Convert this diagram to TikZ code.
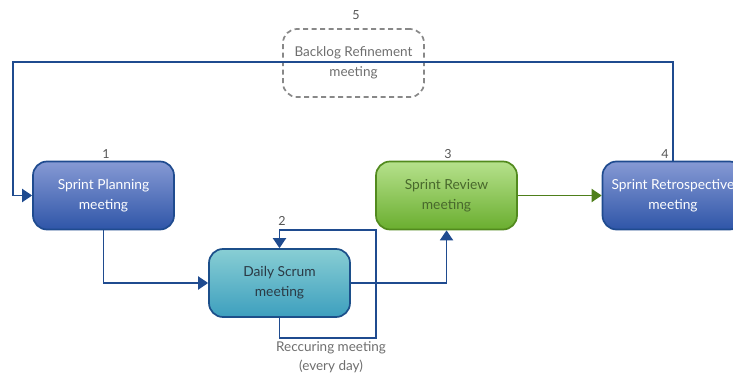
\documentclass[tikz,border=0pt]{standalone}
\usepackage{fontspec}
\setmainfont{Lato}
\usetikzlibrary{arrows.meta,positioning}

\definecolor{linkblue}{HTML}{1F4B8F}
\definecolor{linkgreen}{HTML}{4E7F1A}
\definecolor{numgray}{HTML}{555555}
\definecolor{notegray}{HTML}{6E6E6E}
\definecolor{blueTop}{RGB}{134,154,212}
\definecolor{blueBot}{RGB}{47,85,168}
\definecolor{cyanTop}{RGB}{136,206,212}
\definecolor{cyanBot}{RGB}{61,159,190}
\definecolor{cyanEdge}{RGB}{28,79,138}
\definecolor{cyanText}{RGB}{43,58,69}
\definecolor{greenTop}{RGB}{182,225,140}
\definecolor{greenBot}{RGB}{106,174,47}
\definecolor{greenEdge}{RGB}{82,138,30}
\definecolor{greenText}{RGB}{72,104,44}
\definecolor{ghostEdge}{RGB}{136,136,136}

\tikzset{
  meeting/.style={rounded corners=14pt, minimum width=141pt, minimum height=68pt,
    align=center, font=\fontsize{13.8}{20}\selectfont, line width=1.7pt, inner sep=2pt},
  bluebox/.style={meeting, draw=linkblue, top color=blueTop, bottom color=blueBot, text=white},
  cyanbox/.style={meeting, draw=cyanEdge, top color=cyanTop, bottom color=cyanBot, text=cyanText},
  greenbox/.style={meeting, draw=greenEdge, top color=greenTop, bottom color=greenBot, text=greenText},
  ghostbox/.style={meeting, draw=ghostEdge, dash pattern=on 5pt off 3.5pt,
    text=notegray, font=\fontsize{13.5}{20}\selectfont},
  stepnum/.style={text=numgray, font=\fontsize{12.5}{14}\selectfont, inner sep=0pt},
  link/.style={draw=linkblue, line width=1.9pt, -{Triangle[length=10pt,width=13pt]}},
  greenlink/.style={link, draw=linkgreen, -{Triangle[length=10pt,width=13pt]}}
}

\begin{document}
\begin{tikzpicture}[x=1pt,y=-1pt]
  \useasboundingbox (0,0) rectangle (733,374);
  \clip (0,0) rectangle (733,374);

  % meetings
  \node[bluebox]  (plan)    at (103.5,195.5) {Sprint Planning\\meeting};
  \node[cyanbox]  (daily)   at (279.5,283)   {Daily Scrum\\meeting};
  \node[greenbox] (review)  at (446.5,195.5) {Sprint Review\\meeting};
  \node[bluebox]  (retro)   at (673,195.5)   {Sprint Retrospective\\meeting};
  \node[ghostbox] (backlog) at (353.5,63)    {Backlog Refinement\\meeting};

  % step numbers
  \node[stepnum] (n1) at (106,154) {1};
  \node[stepnum] (n2) at (282,221) {2};
  \node[stepnum] (n3) at (448,154) {3};
  \node[stepnum] (n4) at (665,154) {4};
  \node[stepnum] (n5) at (356,15)  {5};

  % recurring note
  \node[text=notegray, align=center, font=\fontsize{13.5}{19}\selectfont] (note) at (331,357)
    {Reccuring meeting\\(every day)};

  % routing points
  \coordinate (topleft) at (13,62);
  \coordinate (loopbot) at (376,338);
  \coordinate (looptop) at (376,230);

  % connectors
  \draw[link] (retro.north) |- (topleft) |- (plan.west);
  \draw[link] (plan.south) |- (daily.west);
  \draw[link] (daily.east) -| (review.south);
  \draw[link] (daily.south) |- (loopbot) -- (looptop) -| (daily.north);
  \draw[greenlink] (review.east) -- (retro.west);
\end{tikzpicture}
\end{document}
